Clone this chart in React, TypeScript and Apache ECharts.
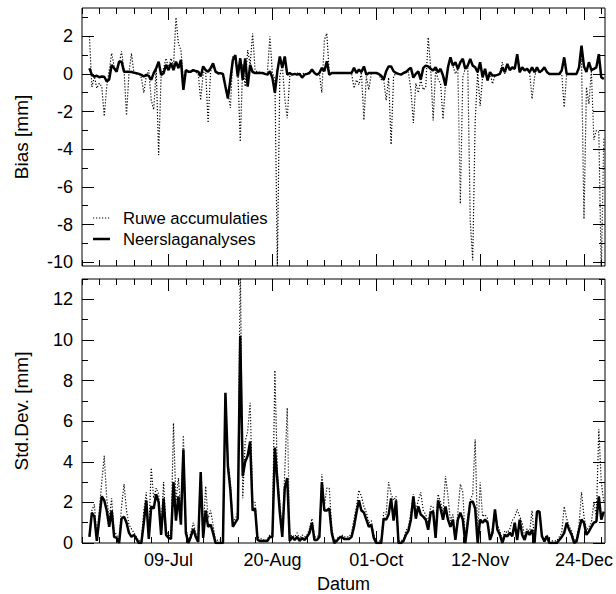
import React, { useEffect, useRef } from "react";
import * as echarts from "echarts";

// Day-of-year of the first data point (7 June)
const startDay = 158;
const axisMinDay = 155;
const axisMaxDay = 366.5;

// x-axis major ticks (labelled) and minor weekly ticks
const majorDays = [190, 232, 274, 316, 358];
const majorLabels = ["09-Jul", "20-Aug", "01-Oct", "12-Nov", "24-Dec"];
const minorDays = [155, 162, 169, 176, 183, 197, 204, 211, 218, 225, 239, 246, 253, 260, 267, 281, 288, 295, 302, 309, 323, 330, 337, 344, 351, 365];

// y ticks
const biasMajor = [-10, -8, -6, -4, -2, 0, 2];
const biasMinor = [-9, -7, -5, -3, -1, 1, 3];
const sdMajor = [0, 2, 4, 6, 8, 10, 12];
const sdMinor = [1, 3, 5, 7, 9, 11, 13];

// Bias, Neerslaganalyses (solid)
const biasAnalyses = [
  0.3, -0.05, -0.14, -0.1, -0.18, -0.14, -0.15, -0.4, -0.3, 0.48,
  0.3, 0.12, 0.65, 0.65, 0.12, 0.12, 0.12, 0.1, 0.07, 0.04,
  0.0, -0.05, -0.14, -0.05, -0.1, -0.32, 0.04, 0.3, 0.65, -0.05,
  0.04, 0.48, 0.2, 0.56, 0.2, 0.65, 0.3, 0.74, -0.85, 0.2,
  0.12, 0.12, 0.2, 0.15, 0.12, -0.14, 0.4, 0.2, 0.12, 0.3,
  0.56, 0.12, 0.04, 0.04, 0.0, -0.67, -1.3, -0.3, 0.74, 1.0,
  -0.14, 0.83, -0.32, 0.83, -0.67, 0.48, 0.1, 0.05, 0.05, 0.05,
  0.05, 0.0, -0.04, 0.14, -0.2, -1.0, 0.14, 0.93, 0.32, 0.93,
  -0.04, 0.05, -0.04, 0.0, -0.04, 0.0, -0.2, -0.04, 0.0, 0.05,
  0.23, 0.05, -0.04, 0.05, 0.32, 0.14, 0.67, -0.04, 0.05, 0.05,
  0.05, 0.05, 0.05, 0.05, 0.05, 0.05, 0.05, 0.32, 0.05, 0.23,
  0.1, 0.4, -0.04, 0.05, 0.05, 0.05, 0.05, 0.0, -0.1, -0.3,
  0.14, 0.4, 0.4, 0.14, 0.05, 0.0, -0.04, 0.05, 0.1, 0.23,
  0.32, -0.2, 0.0, 0.14, -0.3, 0.32, 0.44, 0.4, 0.27, 0.18,
  0.35, 0.09, 0.27, -0.09, -0.62, 0.35, 0.88, 0.44, 0.62, 0.27,
  0.62, 0.8, 0.27, 0.44, 0.8, 0.44, 0.35, 0.09, 0.62, -0.18,
  0.27, -0.35, 0.09, -0.09, -0.09, -0.05, 0.0, 0.35, 0.09, 0.53,
  0.2, 0.35, 0.27, 1.05, 0.09, 0.35, 0.18, 0.27, 0.09, 0.35,
  0.09, 0.35, 0.09, 0.18, 0.35, 0.1, 0.0, 0.0, 0.0, 0.0,
  0.0, 0.18, 0.88, 0.0, 0.0, 0.0, 0.0, 0.0, 0.35, 1.5,
  0.4, 0.1, 0.62, 0.2, 0.27, 0.35, 1.05, -0.18, -0.27,
];

// Bias, Ruwe accumulaties (dotted)
const biasRaw = [
  2.0, -0.7, -0.14, -0.76, -0.5, -0.67, -2.25, -0.67, 0.2, 1.1,
  0.4, 0.12, 0.5, 1.2, 0.2, -2.2, 0.04, 1.1, 0.04, 0.0,
  0.0, -0.2, -1.0, -0.1, 0.2, -1.4, -1.9, 0.3, -4.3, -0.05,
  0.3, 0.83, 0.3, 0.83, 0.4, 3.0, 1.6, 1.27, -0.3, 0.2,
  0.1, 0.1, 0.2, 0.1, 0.0, -1.4, 0.04, 0.2, -2.6, 0.12,
  0.5, 0.1, 0.0, 0.0, 0.0, -0.67, -1.0, -1.8, 0.92, 0.92,
  0.2, -3.6, 0.5, -0.67, 1.27, 0.5, 2.15, 0.2, 0.1, 0.1,
  0.05, 0.0, 0.1, 2.0, 0.04, -0.2, -10.2, -0.14, 0.5, -1.3,
  -2.35, -0.14, 0.0, 0.0, 0.05, 0.0, 0.0, 0.05, 0.0, 0.05,
  0.2, 0.05, 0.0, 0.0, -1.0, 1.8, 2.15, 0.04, 0.05, 0.05,
  0.05, 0.05, 0.05, 0.05, 0.05, 0.05, 0.05, -0.76, -0.32, -0.58,
  0.1, -2.45, -0.14, -0.85, 0.05, 0.05, 0.05, 0.0, -0.3, -0.3,
  -1.4, -0.2, -3.75, -0.14, 0.05, 0.0, 0.0, 0.05, 0.1, 0.1,
  -0.85, -2.6, -0.5, -1.0, -0.3, -0.85, -0.7, 1.94, 0.35, -2.47,
  0.2, -0.27, -0.53, -2.4, -0.53, 0.35, 0.9, 0.44, 0.0, 0.3,
  -6.9, -0.18, 0.3, 0.44, -7.8, -9.9, -2.5, 0.1, -1.7, -0.18,
  0.27, -0.35, 0.09, -0.53, -0.09, -0.05, 0.0, 0.62, 0.0, 0.53,
  0.2, 0.35, 0.27, 1.05, 0.09, 0.35, 0.18, 0.27, 0.09, -1.33,
  -0.18, 0.35, 0.09, 0.18, 0.35, 0.1, 0.0, 0.0, 0.0, 0.0,
  0.0, 0.0, -1.77, 0.0, 0.0, 0.0, 0.0, 0.0, 0.35, 0.8,
  -7.7, -0.7, -1.6, 0.2, -3.5, -3.0, -3.1, -10.6, -3.4,
];

// Std.Dev., Neerslaganalyses (solid)
const sdAnalyses = [
  0.3, 1.5, 1.3, 0.1, 1.2, 2.3, 2.1, 1.6, 0.8, 1.6,
  0.3, 0.25, 0.0, 1.2, 1.3, 1.0, 0.5, 0.3, 0.4, 0.2,
  0.0, 0.0, 1.0, 2.1, 0.2, 1.8, 1.7, 2.4, 2.0, 0.4,
  2.2, 0.4, 0.25, 0.2, 3.0, 1.1, 2.3, 0.9, 4.6, 0.5,
  0.0, 0.3, 0.7, 0.3, 0.05, 3.5, 0.25, 1.6, 0.8, 0.9,
  0.5, 0.0, 0.0, 0.0, 0.0, 7.4, 3.8, 2.6, 0.8, 1.0,
  1.2, 10.2, 3.3, 4.0, 4.3, 5.0, 1.6, 1.7, 0.15, 0.1,
  0.1, 0.1, 0.1, 0.3, 0.3, 4.7, 3.1, 1.5, 0.3, 2.7,
  3.2, 0.1, 0.3, 0.15, 0.3, 0.1, 0.25, 0.15, 0.3, 0.5,
  1.0, 0.15, 0.15, 0.3, 3.0, 1.6, 1.6, 1.7, 0.5, 0.0,
  0.1, 0.25, 0.3, 0.2, 0.2, 0.2, 0.3, 0.8, 1.5, 2.1,
  1.6, 1.5, 1.15, 0.8, 0.9, 0.25, 0.0, 0.0, 0.0, 1.2,
  1.15, 1.4, 2.2, 1.1, 2.1, 0.0, 0.0, 0.1, 0.4, 0.6,
  1.15, 2.3, 1.2, 1.8, 1.4, 1.3, 1.15, 0.65, 1.5, 1.55,
  0.25, 2.1, 1.7, 1.15, 1.8, 1.15, 0.8, 1.15, 0.15, 1.15,
  1.5, 1.15, 0.0, 1.0, 2.0, 2.05, 1.7, 0.0, 1.15, 1.0,
  1.15, 1.0, 0.15, 0.5, 1.65, 0.65, 0.4, 0.0, 0.4, 0.33,
  0.5, 0.33, 1.0, 0.15, 1.15, 0.4, 0.15, 0.57, 0.4, 0.65,
  0.0, 1.55, 1.55, 0.33, 0.08, 0.33, 0.0, 0.0, 0.0, 0.0,
  0.15, 0.3, 0.5, 1.0, 0.65, 0.4, 0.0, 0.08, 0.65, 1.15,
  1.0, 0.4, 0.57, 0.8, 1.0, 1.05, 2.3, 1.15, 1.55,
];

// Std.Dev., Ruwe accumulaties (dotted)
const sdRaw = [
  0.4, 1.6, 1.9, 0.3, 1.6, 3.0, 4.3, 2.2, 1.2, 2.2,
  0.6, 0.4, 0.1, 1.8, 2.9, 1.6, 0.9, 0.7, 0.5, 0.3,
  0.1, 0.1, 1.6, 2.5, 0.4, 3.7, 2.2, 2.7, 2.4, 0.6,
  3.0, 0.6, 0.4, 0.3, 5.9, 2.0, 3.2, 1.5, 5.3, 0.8,
  0.1, 0.5, 1.0, 0.5, 0.1, 3.5, 0.5, 2.8, 1.2, 1.6,
  0.9, 0.1, 0.15, 0.15, 0.1, 7.4, 4.0, 3.0, 1.0, 1.2,
  1.5, 14.0, 2.2, 5.0, 5.5, 6.9, 2.0, 2.0, 0.3, 0.2,
  0.2, 0.1, 0.2, 0.4, 0.5, 8.5, 3.5, 2.0, 0.5, 3.5,
  6.65, 0.3, 0.4, 0.3, 0.5, 0.2, 0.4, 0.3, 0.4, 0.7,
  1.2, 0.3, 0.3, 0.4, 3.4, 1.8, 2.7, 2.7, 0.7, 0.1,
  0.2, 0.3, 0.4, 0.3, 0.3, 0.3, 0.5, 1.2, 1.8, 2.6,
  2.3, 1.8, 1.5, 1.0, 1.1, 0.4, 0.1, 0.1, 0.1, 1.5,
  1.4, 3.0, 2.4, 2.1, 2.3, 0.1, 0.1, 0.2, 0.6, 0.8,
  1.5, 2.4, 1.6, 2.1, 2.5, 1.6, 1.4, 1.0, 1.8, 1.8,
  0.5, 2.4, 2.0, 1.5, 3.3, 2.3, 1.1, 1.4, 0.3, 1.5,
  2.9, 2.5, 0.2, 1.3, 2.1, 2.4, 5.1, 0.3, 3.0, 1.3,
  1.4, 1.2, 0.3, 0.7, 1.6, 0.9, 0.6, 0.1, 0.6, 0.5,
  0.7, 1.1, 1.3, 1.65, 1.3, 1.0, 0.3, 0.7, 0.5, 1.6,
  0.1, 1.6, 1.6, 0.4, 0.2, 0.4, 0.1, 0.1, 0.1, 0.1,
  0.3, 0.5, 1.8, 1.2, 0.8, 0.6, 0.1, 0.2, 0.9, 2.5,
  1.3, 0.6, 0.8, 1.0, 2.0, 1.3, 5.6, 3.0, 2.0,
];

const FONT = "Liberation Sans";
const INK = "#000";

const toPairs = (arr: number[]) => arr.map((v, i) => [startDay + i, v]);

function xAxes(gridIndex: number, withLabels: boolean) {
  const base = {
    gridIndex,
    type: "value" as const,
    min: axisMinDay,
    max: axisMaxDay,
    splitLine: { show: false },
    axisLine: { show: false, onZero: false },
  };
  const mk = (position: string, values: number[], len: number, labels: boolean, name?: string) => ({
    ...base,
    position,
    name: name || "",
    nameLocation: "middle",
    nameGap: 32,
    nameTextStyle: { fontFamily: FONT, fontSize: 18, color: INK },
    axisTick: { show: true, inside: true, length: len, customValues: values, lineStyle: { color: INK, width: 1 } },
    axisLabel: labels
      ? {
          show: true,
          customValues: majorDays,
          margin: 8,
          fontFamily: FONT,
          fontSize: 18,
          color: INK,
          formatter: (v: number) => {
            const i = majorDays.indexOf(Math.round(v));
            return i >= 0 ? majorLabels[i] : "";
          },
        }
      : { show: false },
  });
  return [
    mk("bottom", majorDays, 12, withLabels, withLabels ? "Datum" : ""),
    mk("bottom", minorDays, 6, false),
    mk("top", majorDays, 12, false),
    mk("top", minorDays, 6, false),
  ];
}

function yAxes(gridIndex: number, min: number, max: number, major: number[], minor: number[], name: string) {
  const base = {
    gridIndex,
    type: "value" as const,
    min,
    max,
    splitLine: { show: false },
    axisLine: { show: false, onZero: false },
  };
  const mk = (position: string, values: number[], len: number, labels: boolean, nm: string) => ({
    ...base,
    position,
    name: nm,
    nameLocation: "middle",
    nameGap: 51,
    nameRotate: 90,
    nameTextStyle: { fontFamily: FONT, fontSize: 19, color: INK },
    axisTick: { show: true, inside: true, length: len, customValues: values, lineStyle: { color: INK, width: 1 } },
    axisLabel: labels
      ? { show: true, customValues: major, margin: 9, fontFamily: FONT, fontSize: 18, color: INK }
      : { show: false },
  });
  return [
    mk("left", major, 12, true, name),
    mk("left", minor, 6, false, ""),
    mk("right", major, 12, false, ""),
    mk("right", minor, 6, false, ""),
  ];
}

export default function App() {
  const ref = useRef<HTMLDivElement>(null);

  useEffect(() => {
    if (!ref.current) return;
    const chart = echarts.init(ref.current, null, { renderer: "svg" });

    const solid = { color: INK, width: 2.5 };
    const dotted = { color: INK, width: 1.2, type: [1.2, 1.8] as number[] };

    const option: any = {
      animation: false,
      backgroundColor: "#fff",
      grid: [
        { left: 82, top: 8, width: 523, height: 258, show: true, borderColor: INK, borderWidth: 1, backgroundColor: "transparent" },
        { left: 82, top: 279, width: 523, height: 264, show: true, borderColor: INK, borderWidth: 1, backgroundColor: "transparent" },
      ],
      xAxis: [...xAxes(0, false), ...xAxes(1, true)],
      yAxis: [
        ...yAxes(0, -10.2, 3.5, biasMajor, biasMinor, "Bias [mm]"),
        ...yAxes(1, 0, 13, sdMajor, sdMinor, "Std.Dev. [mm]"),
      ],
      series: [
        { type: "line", name: "Ruwe accumulaties", xAxisIndex: 0, yAxisIndex: 0, data: toPairs(biasRaw), showSymbol: false, lineStyle: dotted, clip: true, z: 2 },
        { type: "line", name: "Neerslaganalyses", xAxisIndex: 0, yAxisIndex: 0, data: toPairs(biasAnalyses), showSymbol: false, lineStyle: solid, clip: true, z: 3 },
        { type: "line", name: "Ruwe accumulaties", xAxisIndex: 4, yAxisIndex: 4, data: toPairs(sdRaw), showSymbol: false, lineStyle: dotted, clip: true, z: 2 },
        { type: "line", name: "Neerslaganalyses", xAxisIndex: 4, yAxisIndex: 4, data: toPairs(sdAnalyses), showSymbol: false, lineStyle: solid, clip: true, z: 3 },
      ],
      graphic: [
        { type: "line", shape: { x1: 93, y1: 218, x2: 110, y2: 218 }, style: { stroke: INK, lineWidth: 1.2, lineDash: [1.2, 1.8] } },
        { type: "text", x: 123, y: 218, style: { text: "Ruwe accumulaties", fontFamily: FONT, fontSize: 16.7, fill: INK, verticalAlign: "middle" } },
        { type: "line", shape: { x1: 93, y1: 239, x2: 110, y2: 239 }, style: { stroke: INK, lineWidth: 2.5 } },
        { type: "text", x: 123, y: 239, style: { text: "Neerslaganalyses", fontFamily: FONT, fontSize: 16.7, fill: INK, verticalAlign: "middle" } },
      ],
    };

    chart.setOption(option);
    return () => chart.dispose();
  }, []);

  return <div ref={ref} style={{ position: "fixed", left: 0, top: 0, width: 616, height: 594, background: "#fff" }} />;
}
